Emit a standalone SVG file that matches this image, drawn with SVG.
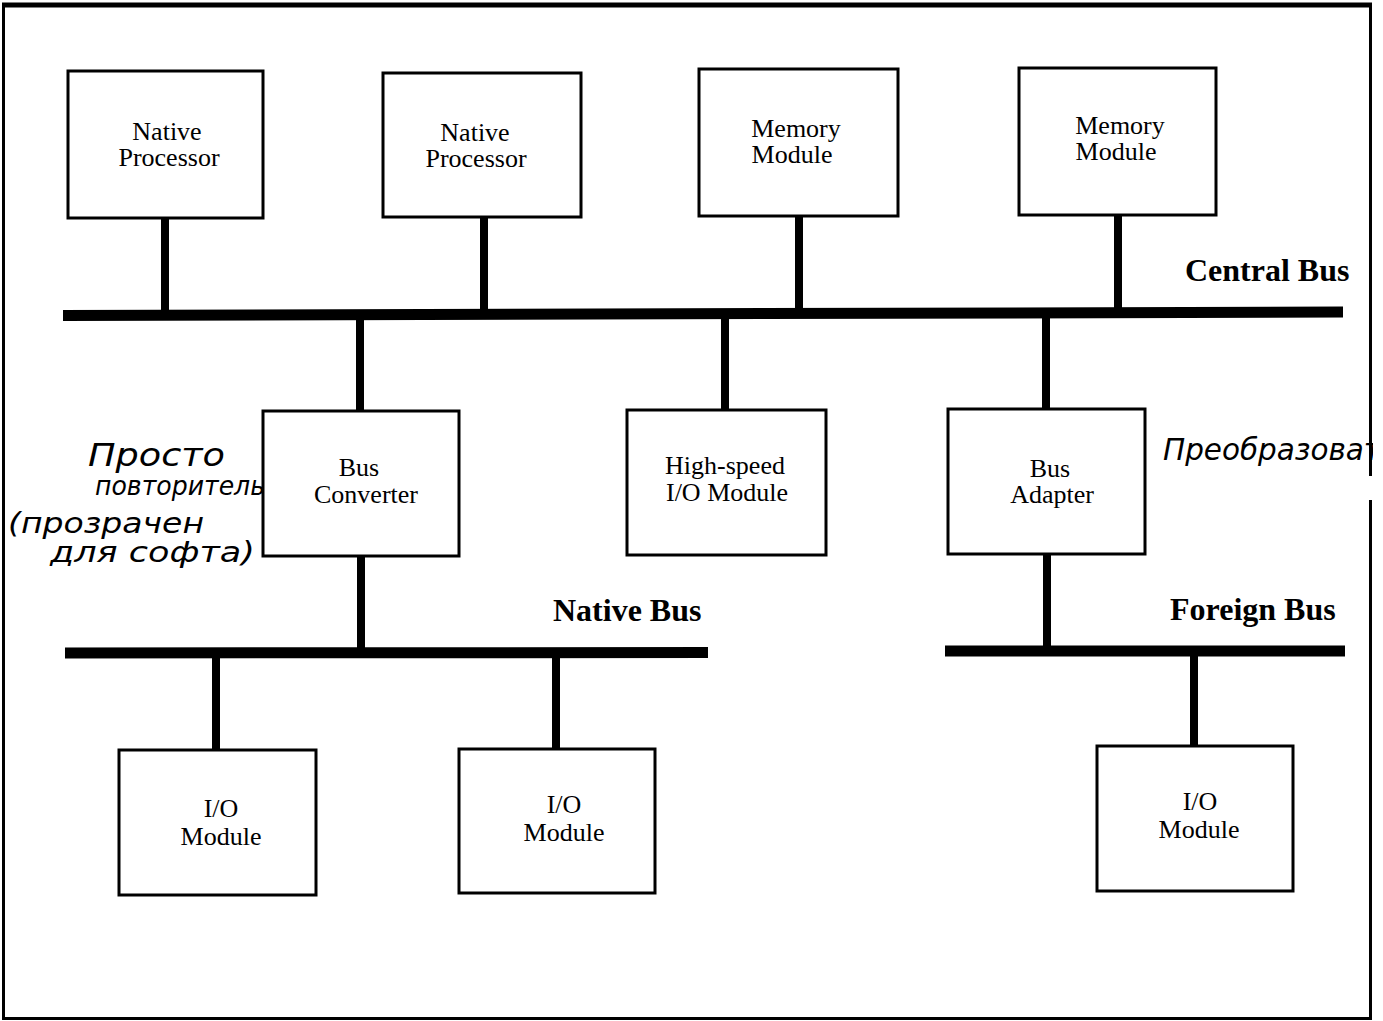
<svg xmlns="http://www.w3.org/2000/svg" width="1383" height="1021" viewBox="0 0 1383 1021">
  <style>
    .box { fill: #ffffff; stroke: #000000; stroke-width: 3; }
    .stem { stroke: #000000; stroke-width: 8; fill: none; }
    .bus { stroke: #000000; stroke-width: 11; fill: none; }
    .lbl { font-family: "Liberation Serif", "Times New Roman", serif; font-size: 26px; fill: #000000; text-anchor: middle; }
    .busname { font-family: "Liberation Serif", "Times New Roman", serif; font-size: 32px; font-weight: bold; fill: #000000; }
    .note { font-family: "DejaVu Sans", "Noto Sans", sans-serif; font-weight: 200; font-style: italic; fill: #000000; }
  </style>
  <defs>
    <clipPath id="pageClip">
      <rect x="0" y="0" width="1373" height="1021"/>
    </clipPath>
  </defs>

  <rect x="0" y="0" width="1383" height="1021" fill="#ffffff"/>

  <!-- page frame -->
  <g id="frame" fill="none" stroke="#000000">
    <line x1="2" y1="5" x2="1372" y2="5" stroke-width="5"/>
    <line x1="3.5" y1="4" x2="3.5" y2="1020" stroke-width="3"/>
    <line x1="3" y1="1018.5" x2="1371" y2="1018.5" stroke-width="3"/>
    <line x1="1370.5" y1="4" x2="1370.5" y2="476" stroke-width="3"/>
    <line x1="1370.5" y1="500" x2="1370.5" y2="1020" stroke-width="3"/>
  </g>

  <!-- buses and stubs -->
  <g id="connectors">
    <line class="bus" x1="63" y1="315.5" x2="1343" y2="312"/>
    <line class="bus" x1="65" y1="653" x2="708" y2="652.5"/>
    <line class="bus" x1="945" y1="651" x2="1345" y2="651"/>

    <line class="stem" x1="165" y1="217" x2="165" y2="312"/>
    <line class="stem" x1="484" y1="216" x2="484" y2="312"/>
    <line class="stem" x1="799" y1="215" x2="799" y2="311"/>
    <line class="stem" x1="1118" y1="214" x2="1118" y2="310"/>

    <line class="stem" x1="360" y1="318" x2="360" y2="412"/>
    <line class="stem" x1="725" y1="317" x2="725" y2="411"/>
    <line class="stem" x1="1046" y1="316" x2="1046" y2="410"/>

    <line class="stem" x1="361" y1="555" x2="361" y2="650"/>
    <line class="stem" x1="1047" y1="553" x2="1047" y2="648"/>

    <line class="stem" x1="216" y1="656" x2="216" y2="751"/>
    <line class="stem" x1="556" y1="655" x2="556" y2="750"/>
    <line class="stem" x1="1194" y1="654" x2="1194" y2="747"/>
  </g>

  <!-- nodes -->
  <g id="native-processor-1">
    <rect class="box" x="68" y="71" width="195" height="147"/>
    <text class="lbl" x="167" y="140">Native</text>
    <text class="lbl" x="169" y="166">Processor</text>
  </g>
  <g id="native-processor-2">
    <rect class="box" x="383" y="73" width="198" height="144"/>
    <text class="lbl" x="475" y="141">Native</text>
    <text class="lbl" x="476" y="167">Processor</text>
  </g>
  <g id="memory-module-1">
    <rect class="box" x="699" y="69" width="199" height="147"/>
    <text class="lbl" x="796" y="137">Memory</text>
    <text class="lbl" x="792" y="163">Module</text>
  </g>
  <g id="memory-module-2">
    <rect class="box" x="1019" y="68" width="197" height="147"/>
    <text class="lbl" x="1120" y="134">Memory</text>
    <text class="lbl" x="1116" y="160">Module</text>
  </g>
  <g id="bus-converter">
    <rect class="box" x="263" y="411" width="196" height="145"/>
    <text class="lbl" x="359" y="476">Bus</text>
    <text class="lbl" x="366" y="503">Converter</text>
  </g>
  <g id="high-speed-io">
    <rect class="box" x="627" y="410" width="199" height="145"/>
    <text class="lbl" x="725" y="474">High-speed</text>
    <text class="lbl" x="727" y="501">I/O Module</text>
  </g>
  <g id="bus-adapter">
    <rect class="box" x="948" y="409" width="197" height="145"/>
    <text class="lbl" x="1050" y="477">Bus</text>
    <text class="lbl" x="1052" y="503">Adapter</text>
  </g>
  <g id="io-module-1">
    <rect class="box" x="119" y="750" width="197" height="145"/>
    <text class="lbl" x="221" y="817">I/O</text>
    <text class="lbl" x="221" y="845">Module</text>
  </g>
  <g id="io-module-2">
    <rect class="box" x="459" y="749" width="196" height="144"/>
    <text class="lbl" x="564" y="813">I/O</text>
    <text class="lbl" x="564" y="841">Module</text>
  </g>
  <g id="io-module-3">
    <rect class="box" x="1097" y="746" width="196" height="145"/>
    <text class="lbl" x="1200" y="810">I/O</text>
    <text class="lbl" x="1199" y="838">Module</text>
  </g>

  <!-- bus names -->
  <g id="bus-labels">
    <text class="busname" x="1185" y="281">Central Bus</text>
    <text class="busname" x="553" y="621">Native Bus</text>
    <text class="busname" x="1170" y="620">Foreign Bus</text>
  </g>

  <!-- handwritten margin notes -->
  <g id="notes">
    <text class="note" x="88" y="466" font-size="32" textLength="137" lengthAdjust="spacingAndGlyphs">Просто</text>
    <text class="note" x="95" y="495" font-size="27" textLength="170" lengthAdjust="spacingAndGlyphs">повторитель</text>
    <text class="note" x="8" y="533" font-size="28" textLength="196" lengthAdjust="spacingAndGlyphs">(прозрачен</text>
    <text class="note" x="50" y="562" font-size="28" textLength="205" lengthAdjust="spacingAndGlyphs">для софта)</text>
    <g clip-path="url(#pageClip)">
      <text class="note" x="1163" y="460" font-size="30" textLength="218" lengthAdjust="spacingAndGlyphs">Преобразоват</text>
    </g>
  </g>
</svg>
